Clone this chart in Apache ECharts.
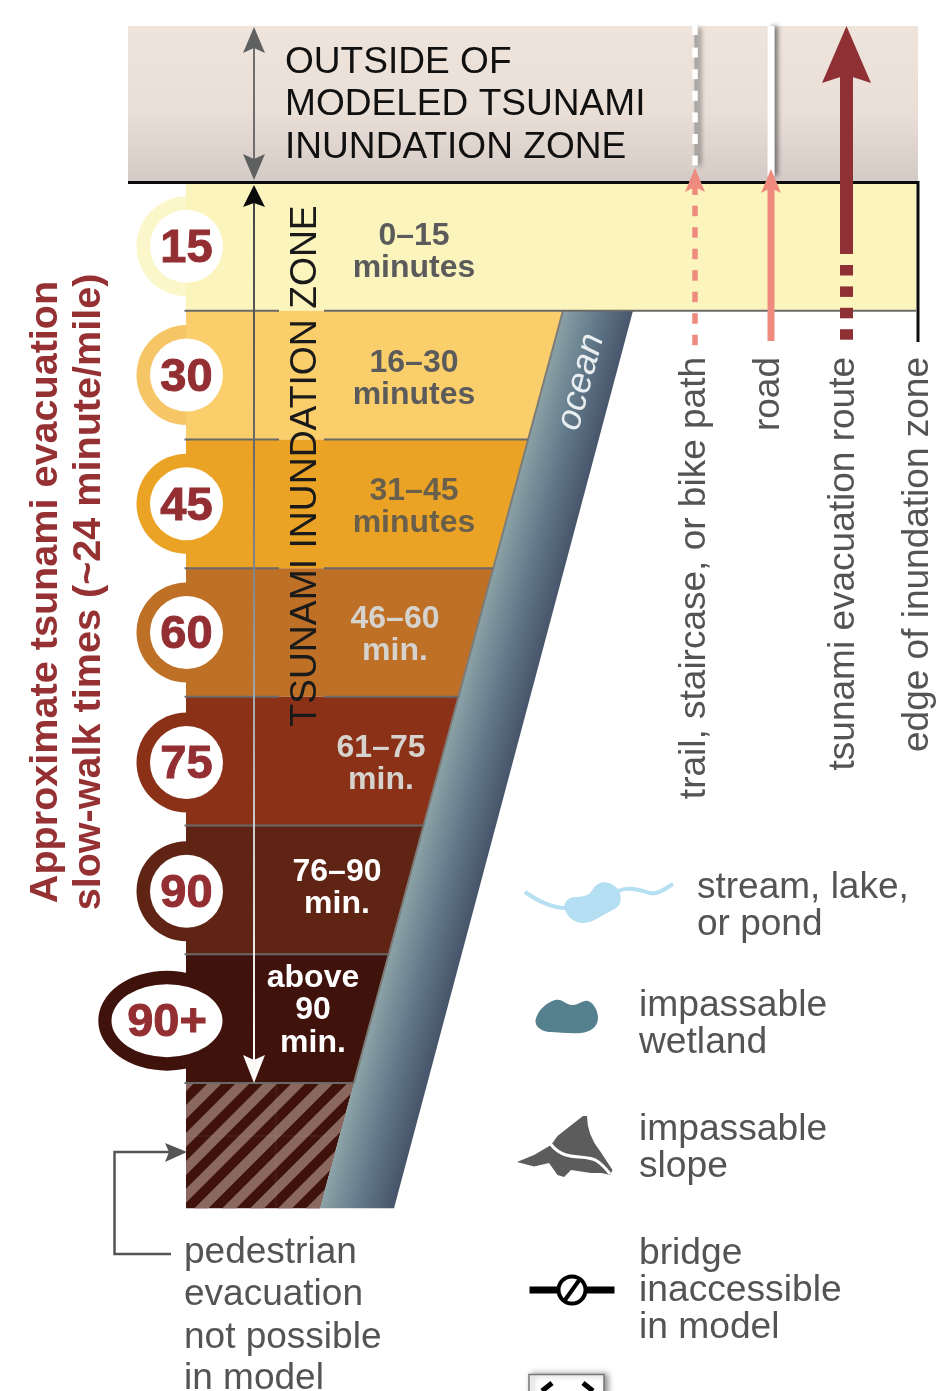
<!DOCTYPE html>
<html><head><meta charset="utf-8">
<style>html,body{margin:0;padding:0;background:#fff}#c{width:936px;height:1391px}</style>
<script src="https://cdn.jsdelivr.net/npm/echarts@6/dist/echarts.min.js"></script>
</head><body><div id="c"></div>
<script>
// ---- data ----
const bandEnds = [15, 30, 45, 60, 75, 90, 105];
const badgeLabels = ['15', '30', '45', '60', '75', '90', '90+'];
const rangeLabels = [['0–15','minutes'],['16–30','minutes'],['31–45','minutes'],['46–60','min.'],['61–75','min.'],['76–90','min.'],['above','90','min.']];
const bandColors = ['#FBF5BD','#FACE6B','#EBA326','#BF7027','#8A3118','#5F2414','#3F120C'];
const ringColors = ['#FCF7CB','#F6C565','#EBA326','#BF7027','#8A3118','#5F2414','#3F120C'];
const rangeColors = ['#5B5B5B','#5B5B5B','#6A5F4B','#D6D2CE','#D6D2CE','#FFFFFF','#FFFFFF'];
const outsideStart = -18.18;
const impassableEnd = 119.6;
const outsideLines = ['OUTSIDE OF','MODELED TSUNAMI','INUNDATION ZONE'];
const zoneLabel = 'TSUNAMI INUNDATION ZONE';
const routeLabels = ['trail, staircase, or bike path','road','tsunami evacuation route','edge of inundation zone'];
const axisTitle = ['Approximate tsunami evacuation','slow-walk times (~24 minute/mile)'];
const noEvacLines = ['pedestrian','evacuation','not possible','in model'];
const streamLines = ['stream, lake,','or pond'];
const wetlandLines = ['impassable','wetland'];
const slopeLines = ['impassable','slope'];
const bridgeLines = ['bridge','inaccessible','in model'];

// ---- scale ----
const PX = (1083 - 182) / 105;
const yMin = -182 / PX, yMax = (1391 - 182) / PX;
const shoreX = m => 563 - (m - 15) * (563 - 320) / (impassableEnd - 15);
const oceanX = m => 633 - (m - 15) * (633 - 394) / (impassableEnd - 15);
const FONT = '"Liberation Sans", Arial, sans-serif';
const LG = (a, b, c, d, stops, g) => new echarts.graphic.LinearGradient(a, b, c, d, stops.map(s => ({offset: s[0], color: s[1]})), g);

function clipHalf(pts, f) { // keep where f(p) >= 0
  const out = [];
  for (let i = 0; i < pts.length; i++) {
    const a = pts[i], b = pts[(i + 1) % pts.length], fa = f(a), fb = f(b);
    if (fa >= 0) out.push(a);
    if ((fa >= 0) !== (fb >= 0)) { const t = fa / (fa - fb); out.push([a[0] + (b[0] - a[0]) * t, a[1] + (b[1] - a[1]) * t]); }
  }
  return out;
}
function head(x, tip, len, w, dir, notch, fill) { // vertical stealth arrow head
  const base = tip + dir * len, n = tip + dir * (len - notch);
  return {type: 'polygon', shape: {points: [[x, tip], [x + w / 2, base], [x, n], [x - w / 2, base]]}, style: {fill}};
}
const custom = (z, data, renderItem) => ({type: 'custom', coordinateSystem: 'cartesian2d', clip: false, silent: true, z, data, renderItem});
const once = [[0, 0]];
const path = (d, style) => ({type: 'path', shape: {pathData: d}, style});
const ell = (cx, cy, rx, ry) => `M${cx - rx} ${cy} A${rx} ${ry} 0 1 1 ${cx + rx} ${cy} A${rx} ${ry} 0 1 1 ${cx - rx} ${cy} Z`;
const badgeY = (i, y) => y + (i === 6 ? 2 : i >= 4 ? 1.3 : 0);

const series = [
  // outside-of-zone background
  custom(1, once, (p, api) => {
    const a = api.coord([128, outsideStart]), b = api.coord([918, 0]);
    return {type: 'rect', shape: {x: a[0], y: a[1], width: b[0] - a[0], height: b[1] - a[1]},
      style: {fill: LG(0, 0, 0, 1, [[0, '#EFE4DC'], [.55, '#EADFD7'], [1, '#D4CAC5']])}};
  }),
  // badge rings, under the bands
  custom(1, bandEnds.map((e, i) => [i, e - 7.5]), (p, api) => {
    const i = api.value(0), y = badgeY(i, api.coord([0, api.value(1)])[1]);
    return i === 6
      ? path(ell(167, y, 68.7, 50), {fill: ringColors[i]})
      : {type: 'circle', shape: {cx: 186.5, cy: y, r: 50}, style: {fill: ringColors[i]}};
  }),
  // bands
  custom(2, bandEnds.map((e, i) => [i, i ? bandEnds[i - 1] : 0, e]), (p, api) => {
    const i = api.value(0), t = api.value(1), b = api.value(2);
    const pts = i === 0
      ? [[186, t], [916.5, t], [916.5, b], [186, b]]
      : [[186, t], [shoreX(t), t], [shoreX(b), b], [186, b]];
    return {type: 'polygon', shape: {points: pts.map(q => api.coord(q))}, style: {fill: bandColors[i]}};
  }),
  // hatched, not possible
  custom(2, once, (p, api) => {
    const t = bandEnds[bandEnds.length - 1], b = impassableEnd;
    const poly = [[186, t], [shoreX(t), t], [shoreX(b), b], [186, b]].map(q => api.coord(q));
    const kids = [{type: 'polygon', shape: {points: poly}, style: {fill: '#3F120C'}}];
    const P = 27.9, W = 14;
    for (let c = 1319 - 4 * P; c < 1560; c += P) {
      let s = clipHalf(poly, q => q[0] + q[1] - c);
      s = clipHalf(s, q => c + W - q[0] - q[1]);
      if (s.length > 2) kids.push({type: 'polygon', shape: {points: s}, style: {fill: '#8A675F'}});
    }
    kids.push({type: 'line', shape: {x1: 276, y1: poly[0][1], x2: 276, y2: poly[3][1]}, style: {stroke: 'rgba(255,255,255,.09)', lineWidth: 1}});
    kids.push({type: 'line', shape: {x1: 186, y1: 1136, x2: 338, y2: 1136}, style: {stroke: 'rgba(255,255,255,.09)', lineWidth: 1}});
    return {type: 'group', children: kids};
  }),
  // ocean
  custom(3, once, (p, api) => {
    const t = 15, b = impassableEnd;
    const pts = [[shoreX(t), t], [oceanX(t), t], [oceanX(b), b], [shoreX(b), b]].map(q => api.coord(q));
    const e = api.coord([shoreX(105), 105]);
    const g = LG(pts[0][0], pts[0][1], pts[0][0] + 67, pts[0][1] + 18, [[0, '#8AA1A6'], [.5, '#62798A'], [1, '#47546A']], true);
    return {type: 'group', children: [
      {type: 'polygon', shape: {points: pts}, style: {fill: g}},
      {type: 'line', shape: {x1: pts[0][0], y1: pts[0][1], x2: e[0], y2: e[1]}, style: {stroke: '#7C7C78', lineWidth: 2}}
    ]};
  }),
  // separators
  custom(4, bandEnds.map(e => [e]), (p, api) => {
    const m = api.value(0), y = api.coord([0, m])[1];
    const right = m === 15 ? 916 : shoreX(m);
    const stroke = '#6A6A68', lineWidth = 2;
    const seg = (a, b) => ({type: 'line', shape: {x1: a, y1: y, x2: b, y2: y}, style: {stroke, lineWidth}});
    const kids = m <= 60 ? [seg(184.5, 279), seg(324, right)] : [seg(184.5, right)];
    return {type: 'group', children: kids};
  }),
  // badges
  custom(5, bandEnds.map((e, i) => [i, e - 7.5]), (p, api) => {
    const i = api.value(0), y = badgeY(i, api.coord([0, api.value(1)])[1]);
    const cx = i === 6 ? 167 : 186.5;
    return {type: 'group', children: [
      i === 6 ? path(ell(167, y, 55.5, 36.5), {fill: '#fff'}) : {type: 'circle', shape: {cx, cy: y, r: 36.5}, style: {fill: '#fff'}},
      {type: 'text', x: cx, y: y + (i === 6 ? 2 : 3), style: {text: badgeLabels[i], fontFamily: FONT, fontWeight: 'bold', fontSize: 47, fill: '#932E32', stroke: '#932E32', lineWidth: 1, textAlign: 'center', textVerticalAlign: 'middle'}}
    ]};
  }),
  // range labels
  custom(6, bandEnds.map((e, i) => [i, e - 7.5]), (p, api) => {
    const i = api.value(0), y = api.coord([0, api.value(1)])[1];
    const cx = [414, 414, 414, 395, 381, 337, 313][i];
    const off = [6, 4, 3, 3, 3, -2, -8][i];
    const lines = rangeLabels[i], h = 32.2;
    return {type: 'group', children: lines.map((s, k) => ({type: 'text', x: cx, y: y + (k - (lines.length - 1) / 2) * h + off,
      style: {text: s, fontFamily: FONT, fontWeight: 'bold', fontSize: 32, fill: rangeColors[i], textAlign: 'center', textVerticalAlign: 'middle'}}))};
  }),
  // zone arrows
  custom(7, once, (p, api) => {
    const y0 = api.coord([0, 0])[1], yT = api.coord([0, outsideStart])[1], yB = api.coord([0, 105])[1], x = 254;
    return {type: 'group', children: [
      {type: 'rect', shape: {x: x - 1, y: yT + 10, width: 2, height: y0 - yT - 20}, style: {fill: '#6E6E6E'}},
      head(x, yT + 1, 26, 22, 1, 5, '#5F6060'),
      head(x, y0 - 2, 26, 22, -1, 5, '#5F6060'),
      {type: 'rect', shape: {x: x - 1, y: y0 + 15, width: 2, height: yB - y0 - 30}, style: {fill: LG(0, 0, 0, 1, [[0, '#444'], [.3, '#6C6C6C'], [.55, '#9AA0A4'], [.8, '#DDD'], [1, '#FFF']])}},
      head(x, y0 + 3, 22, 22, 1, 4, '#0A0A0A'),
      head(x, yB, 28, 22, -1, 5, '#FBFAF8')
    ]};
  }),
  // routes
  custom(8, once, (p, api) => {
    const kids = [];
    const rect = (x, y, w, h, fill, extra) => ({type: 'rect', shape: {x: x - w / 2, y, width: w, height: h}, style: Object.assign({fill}, extra || {})});
    const shadow = {shadowBlur: 5, shadowColor: 'rgba(60,60,60,.75)', shadowOffsetX: 3};
    const pink = '#EE8A7E', red = '#8F3035';
    // top and edge
    kids.push({type: 'line', shape: {x1: 128, y1: 182.5, x2: 919, y2: 182.5}, style: {stroke: '#0c0c0c', lineWidth: 3}});
    kids.push({type: 'line', shape: {x1: 918, y1: 181, x2: 918, y2: 342}, style: {stroke: '#0c0c0c', lineWidth: 3}});
    // trail
    kids.push(rect(696, 28, 3, 138, '#A9A5A2', shadow));
    for (let y = 26; y < 165; y += 21.6) kids.push(rect(695, y, 5.5, y === 26 ? 9 : 10, '#fff'));
    for (let y = 205.7; y < 340; y += 21.5) kids.push(rect(695, y, 5.5, 10.5, pink));
    kids.push(rect(695, 186, 5.5, 9, pink));
    kids.push(head(695, 168, 24, 20, 1, 5, pink));
    // road
    kids.push(rect(771.5, 26, 6, 150, '#A9A5A2', shadow));
    kids.push(rect(771, 26, 7, 150, '#fff'));
    kids.push(rect(771, 188, 7, 153, pink));
    kids.push(head(771, 169, 24, 20, 1, 5, pink));
    // evacuation route
    kids.push(rect(846.5, 70, 13, 184, red));
    kids.push(head(846.5, 26, 57, 49, 1, 8, red));
    for (let y = 265; y < 340; y += 21.4) kids.push(rect(846.5, y, 13, 10.5, red));
    return {type: 'group', children: kids};
  }),
  // legend icons and connector
  custom(9, once, () => ({type: 'group', children: [
    path('M171 1254 L114.5 1254 L114.5 1152 L170 1152', {fill: 'none', stroke: '#555', lineWidth: 2.5}),
    path('M187 1152 L165 1143 L169 1152 L165 1162 Z', {fill: '#555'}),
    path('M525 892 C535 899 550 908 566 908 M618 891 C628 886 640 890 650 893 C658 895 666 888 673 884', {fill: 'none', stroke: '#B5E0F2', lineWidth: 4}),
    path('M564 907 C565 900 570 897 576 897 C584 897 590 895 593 889 C597 882 606 880 613 885 C620 889 622 896 620 903 C618 909 612 910 605 914 C597 919 590 923 583 923 C574 923 566 916 564 907 Z', {fill: '#B4DFF2'}),
    path('M535.5 1020 C538 1010 546 1003 555 1000 C562 998 566 1005 573 1005 C579 1005 583 1000 588 1001 C594 1003 598 1011 598 1018 C598 1027 590 1032 581 1033 C570 1034 560 1032 549 1032 C541 1031 535 1027 535.5 1020 Z', {fill: '#55808E'}),
    path('M517 1162 L534 1155 L551 1145 L557.5 1136 Q570 1126 583 1116 L587 1116 Q587 1135 600 1151 L612.5 1170 L610 1175 L601.5 1173 L591 1173 L571 1170 L564 1177 L557.5 1175 L549 1163 L534 1166.5 Z', {fill: '#5C5C5C'}),
    path('M551 1144.5 C556 1151 560 1153 566 1155 C575 1158 590 1156 597 1161 C603 1165 607 1170 610 1174', {fill: 'none', stroke: '#fff', lineWidth: 3}),
    path('M529.5 1290 L614.5 1290', {fill: 'none', stroke: '#000', lineWidth: 7}),
    {type: 'circle', shape: {cx: 572, cy: 1290, r: 13.5}, style: {fill: '#fff', stroke: '#000', lineWidth: 4}},
    path('M565 1300 L580 1279', {fill: 'none', stroke: '#000', lineWidth: 4}),
    {type: 'rect', shape: {x: 529, y: 1374.5, width: 75, height: 30}, style: {fill: '#fff', stroke: '#777', lineWidth: 1.5, shadowBlur: 6, shadowColor: 'rgba(0,0,0,.45)', shadowOffsetX: 3}},
    path('M552 1383 L542 1391 M583 1383 L593 1391', {fill: 'none', stroke: '#000', lineWidth: 5})
  ]}))
];

// ---- annotations ----
const txt = (s, x, y, o) => ({type: 'text', z: 100, x, y, rotation: o.rot || 0,
  style: {text: s, fontFamily: FONT, fontSize: o.size || 37, fontWeight: o.bold ? 'bold' : 'normal', fontStyle: o.italic ? 'italic' : 'normal',
    fill: o.fill || '#545454', textAlign: o.align || 'left', textVerticalAlign: 'middle'}});
const R90 = Math.PI / 2;
const LEG = 37.2;
const els = [];
outsideLines.forEach((s, i) => els.push(txt(s, 285, [63, 105, 148][i], {fill: '#101010', size: 37.1})));
els.push(txt(zoneLabel, 306, 466, {rot: R90, align: 'center', fill: '#1a1a1a', size: 37.3}));
const routeX = [695, 769, 844, 918];
routeLabels.forEach((s, i) => els.push(txt(s, routeX[i], 357, {rot: R90, align: 'right'})));
axisTitle.forEach((s, i) => els.push(txt(s, [46, 89][i], 592, {rot: R90, align: 'center', bold: true, fill: '#963133', size: 39.6})));
els.push(txt('ocean', 581, 382, {rot: 75 * Math.PI / 180, align: 'center', italic: true, fill: '#E9EEF0', size: 36}));
noEvacLines.forEach((s, i) => els.push(txt(s, 184, [1253, 1295, 1338, 1379][i], {})));
streamLines.forEach((s, i) => els.push(txt(s, 697, [888, 925][i], {size: 37})));
wetlandLines.forEach((s, i) => els.push(txt(s, 639, [1006, 1043][i], {size: LEG})));
slopeLines.forEach((s, i) => els.push(txt(s, 639, [1130, 1167][i], {size: LEG})));
bridgeLines.forEach((s, i) => els.push(txt(s, 639, [1254, 1291, 1328][i], {size: LEG})));

const chart = echarts.init(document.getElementById('c'), null, {renderer: 'canvas'});
chart.setOption({
  animation: false,
  backgroundColor: '#fff',
  grid: {left: 0, right: 0, top: 0, bottom: 0},
  xAxis: {type: 'value', min: 0, max: 936, show: false},
  yAxis: {type: 'value', inverse: true, min: yMin, max: yMax, show: false},
  series,
  graphic: {elements: els}
});
</script></body></html>
